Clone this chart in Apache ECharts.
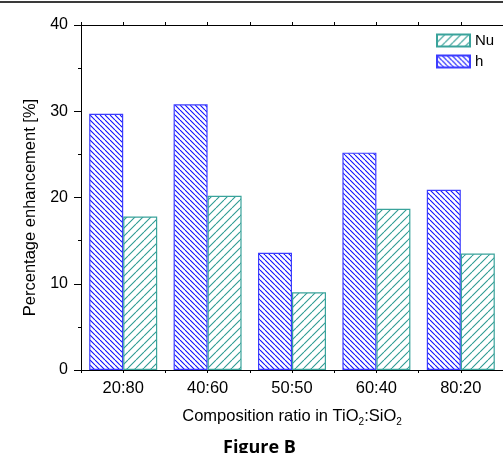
<!DOCTYPE html>
<html>
<head>
<meta charset="utf-8">
<script src="https://cdn.jsdelivr.net/npm/echarts@6/dist/echarts.min.js"></script>
<style>
html, body { margin: 0; padding: 0; background: #fff; }
#main { width: 503px; height: 453px; }
#topline { position: absolute; left: 0; top: 1px; width: 503px; height: 2px; background: #3a3a3a; z-index: 5; }
</style>
</head>
<body>
<div id="topline"></div>
<div id="main"></div>
<script>
var categories = ["20:80", "40:60", "50:50", "60:40", "80:20"];
var hValues = [29.7, 30.8, 13.6, 25.2, 20.9];
var nuValues = [17.8, 20.2, 9.0, 18.7, 13.5];
var yTicks = [0, 10, 20, 30, 40];

// diagonal hatch pattern drawn on a small canvas
function hatch(color, step, back) {
	var c = document.createElement("canvas");
	c.width = step;
	c.height = step;
	var ctx = c.getContext("2d");
	ctx.fillStyle = "#fff";
	ctx.fillRect(0, 0, step, step);
	ctx.strokeStyle = color;
	ctx.lineWidth = 1.1;
	ctx.beginPath();
	for (var k = -1; k <= 1; k++) {
		if (back) {
			ctx.moveTo(k * step, 0);
			ctx.lineTo(k * step + step, step);
		} else {
			ctx.moveTo(k * step, step);
			ctx.lineTo(k * step + step, 0);
		}
	}
	ctx.stroke();
	return c;
}

var chart = echarts.init(document.getElementById("main"));
var font = "Liberation Sans, Arial, sans-serif";

var option = {
	animation: false,
	textStyle: { fontFamily: font, color: "#000" },
	grid: { left: 81, top: 25, width: 425, height: 345 },
	legend: {
		orient: "vertical",
		left: 436,
		top: 33,
		padding: 0,
		itemWidth: 33,
		itemHeight: 12,
		itemGap: 6,
		icon: "rect",
		textStyle: { fontSize: 15, color: "#000", fontFamily: font },
		data: ["Nu", "h"]
	},
	xAxis: [{
		type: "category",
		data: categories,
		position: "bottom",
		axisLine: { lineStyle: { color: "#000", width: 1 } },
		axisTick: { alignWithLabel: true, length: 6, lineStyle: { color: "#000" } },
		axisLabel: { fontSize: 16.5, color: "#000", margin: 10 },
		name: "{n|Composition ratio in TiO}{s|2}{n|:SiO}{s|2}",
		nameLocation: "middle",
		nameGap: 36,
		nameTextStyle: {
			rich: {
				n: { fontSize: 16.5, color: "#000", fontFamily: font },
				s: { fontSize: 10, color: "#000", fontFamily: font, padding: [11, 0, 0, 0] }
			}
		}
	}, {
		type: "value",
		position: "bottom",
		min: 0,
		max: 5,
		interval: 0.5,
		axisLine: { show: false },
		axisTick: { show: true, length: 3, lineStyle: { color: "#000" } },
		axisLabel: { show: false },
		splitLine: { show: false }
	}, {
		type: "value",
		position: "top",
		min: 0,
		max: 5,
		interval: 0.5,
		axisLine: { show: true, lineStyle: { color: "#000" } },
		axisTick: { show: true, length: 3, lineStyle: { color: "#000" } },
		axisLabel: { show: false },
		splitLine: { show: false }
	}],
	yAxis: {
		type: "value",
		min: 0,
		max: 40,
		interval: 10,
		axisLine: { show: true, lineStyle: { color: "#000" } },
		axisTick: { show: true, length: 7, lineStyle: { color: "#000" } },
		minorTick: { show: true, splitNumber: 2, length: 3, lineStyle: { color: "#000" } },
		splitLine: { show: false },
		axisLabel: {
			fontSize: 16,
			color: "#000",
			margin: 13,
			formatter: function (v) { return yTicks.indexOf(v) >= 0 ? String(v) : ""; }
		},
		name: "Percentage enhancement [%]",
		nameLocation: "middle",
		nameGap: 34,
		nameTextStyle: { fontSize: 16.5, color: "#000", padding: [0, 20, 0, 0] }
	},
	graphic: [{
		type: "text",
		left: 223,
		top: 439,
		style: { text: "Figure B", font: "bold 18px 'Open Sans', Lato, sans-serif", fill: "#000" }
	}],
	series: [{
		name: "h",
		type: "bar",
		data: hValues,
		barWidth: 34,
		barGap: "0%",
		itemStyle: {
			color: { image: hatch("#1010ff", 5, true), repeat: "repeat" },
			borderColor: "#3c3cff",
			borderWidth: 1.2
		}
	}, {
		name: "Nu",
		type: "bar",
		data: nuValues,
		barWidth: 34,
		barGap: "0%",
		itemStyle: {
			color: { image: hatch("#2e9b93", 8, false), repeat: "repeat" },
			borderColor: "#3aa39b",
			borderWidth: 1.2
		}
	}]
};
chart.setOption(option);
</script>
</body>
</html>
